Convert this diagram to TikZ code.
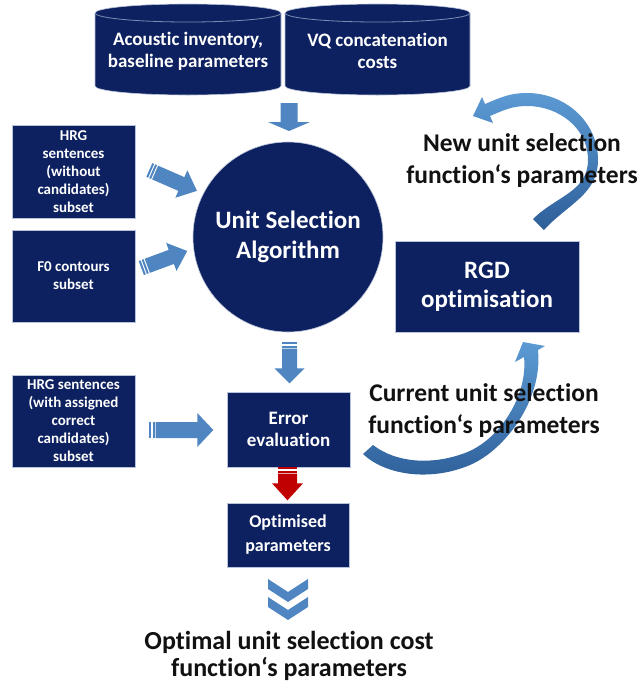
\documentclass[tikz,border=0pt]{standalone}
\usepackage{fontspec}
\setmainfont{Carlito}[Ligatures=NoCommon]
\usetikzlibrary{calc}

\definecolor{navy}{HTML}{0D2160}
\definecolor{boxedge}{HTML}{B8C2D8}
\definecolor{rimline}{HTML}{7C8BB4}
\definecolor{flowblue}{HTML}{4F86C1}
\definecolor{curvelight}{HTML}{5C9AD3}
\definecolor{curvedark}{HTML}{2E5F99}
\definecolor{flowred}{HTML}{C00000}
\definecolor{labelink}{HTML}{111111}

% text sizes
\newcommand\txtS{\fontsize{15}{18}\selectfont\bfseries}
\newcommand\txtM{\fontsize{19}{22}\selectfont\bfseries}
\newcommand\txtO{\fontsize{18}{24}\selectfont\bfseries}
\newcommand\txtL{\fontsize{25}{29}\selectfont\bfseries}
\newcommand\txtC{\fontsize{25}{30}\selectfont\bfseries}
\newcommand\txtB{\fontsize{25.5}{32}\selectfont\bfseries}
\newcommand\txtF{\fontsize{26}{27}\selectfont\bfseries}

\tikzset{
  darkbox/.style={fill=navy, draw=boxedge, line width=0.6pt, text=white,
    align=center, inner sep=0pt},
  caption/.style={text=labelink, align=center, inner sep=0pt},
  % block arrow pointing along +x: {length}{shaft half width}{head half width}{head length}
  pics/stripearrow/.style n args={4}{code={
    \fill[pic actions] (6.4,-#2) -- (#1-#4,-#2) -- (#1-#4,-#3) -- (#1,0)
      -- (#1-#4,#3) -- (#1-#4,#2) -- (6.4,#2) -- cycle;
    \fill[pic actions] (0,-#2) rectangle (2,#2);
    \fill[pic actions] (3.2,-#2) rectangle (5.2,#2);
  }},
  chevron/.style={fill=flowblue},
}

\begin{document}
\begin{tikzpicture}[x=1pt,y=1pt]
\useasboundingbox (0,0) rectangle (643,-686);

% ---------- data stores ----------
\foreach \cx/\hw in {188/93, 377.5/92.5} {
  \fill[navy] (\cx-\hw,-13) -- (\cx-\hw,-86)
    arc[start angle=180,end angle=360,x radius=\hw,y radius=9]
    -- (\cx+\hw,-13)
    arc[start angle=0,end angle=180,x radius=\hw,y radius=9] -- cycle;
  \draw[boxedge, line width=0.6pt] (\cx-\hw,-13) -- (\cx-\hw,-86)
    arc[start angle=180,end angle=360,x radius=\hw,y radius=9]
    -- (\cx+\hw,-13)
    arc[start angle=0,end angle=180,x radius=\hw,y radius=9];
  \draw[rimline, line width=0.8pt] (\cx-\hw,-13)
    arc[start angle=180,end angle=360,x radius=\hw,y radius=9];
}
\node[text=white, align=center, font=\txtM] (inv) at (188,-51)
  {Acoustic inventory,\\baseline parameters};
\node[text=white, align=center, font=\txtM] (vq) at (377.5,-51)
  {VQ concatenation\\costs};

% ---------- main nodes ----------
\node[darkbox, circle, minimum size=190pt, font=\txtC] (usa) at (288,-237)
  {Unit Selection\\Algorithm};
\node[darkbox, minimum width=123pt, minimum height=93pt, font=\txtS] (hrga)
  at (73.5,-171.5) {HRG\\sentences\\(without\\candidates)\\subset};
\node[darkbox, minimum width=123pt, minimum height=92pt, font=\txtS] (fzero)
  at (73.5,-276) {F0 contours\\subset};
\node[darkbox, minimum width=123pt, minimum height=92pt, font=\txtS] (hrgb)
  at (73.5,-421) {HRG sentences\\(with assigned\\correct\\candidates)\\subset};
\node[darkbox, minimum width=123pt, minimum height=75pt, font=\txtM] (err)
  at (288.5,-429.5) {Error\\evaluation};
\node[darkbox, minimum width=122pt, minimum height=64pt, font=\txtO] (opt)
  at (288,-535) {Optimised\\parameters};
\node[darkbox, minimum width=184pt, minimum height=91pt, font=\txtL] (rgd)
  at (487,-286.5) {RGD\\optimisation};

% ---------- straight block arrows ----------
\coordinate (topA) at (289,-103);
\fill[flowblue] ($(topA)+(-8.5,0)$) -- ($(topA)+(8.5,0)$) -- ($(topA)+(8.5,-19)$)
  -- ($(topA)+(21,-19)$) -- ($(topA)+(0,-28)$) -- ($(topA)+(-21,-19)$)
  -- ($(topA)+(-8.5,-19)$) -- cycle;

\coordinate (aOne) at ($(hrga.east)+(14,1.5)$);
\pic[rotate=-23.6, fill=flowblue] at (aOne) {stripearrow={52}{7.5}{15}{17}};
\coordinate (aTwo) at ($(fzero.east)+(6,8)$);
\pic[rotate=20.3, fill=flowblue] at (aTwo) {stripearrow={49}{7.5}{15}{17}};
\coordinate (aThree) at ($(usa.south)+(1.5,-10)$);
\pic[rotate=-90, fill=flowblue] at (aThree) {stripearrow={41}{7.5}{15}{15}};
\coordinate (aFour) at ($(hrgb.east)+(14,-9)$);
\pic[fill=flowblue] at (aFour) {stripearrow={64}{8}{17}{16}};
\coordinate (aFive) at ($(err.south)+(-1,0)$);
\pic[rotate=-90, fill=flowred] at (aFive) {stripearrow={33}{9.5}{15.5}{17}};

% ---------- result chevrons ----------
\foreach \dy in {0,18} {
  \fill[chevron] (268,-579-\dy) -- (288,-592-\dy) -- (308,-579-\dy)
    -- (308,-589-\dy) -- (288,-602-\dy) -- (268,-589-\dy) -- cycle;
}

% ---------- feedback loop arrows ----------
\shade[top color=curvelight, bottom color=curvedark]
  (544,-230) to[out=48,in=-90] (598,-160) to[out=90,in=0] (527,-93)
  to[out=180,in=23] (485,-104) -- (482,-97) -- (473,-116) -- (493,-123)
  -- (490,-116) to[out=23,in=180] (527,-106) to[out=0,in=90] (588,-160)
  to[out=-90,in=45] (533,-219) -- cycle;

\shade[top color=curvelight, bottom color=curvedark]
  (363,-454) .. controls (385,-475) and (430,-482) .. (470,-465)
  .. controls (505,-450) and (543,-400) .. (538,-350)
  -- (545,-346) -- (523,-342) -- (515,-362) -- (524,-357)
  .. controls (528,-395) and (500,-440) .. (465,-453)
  .. controls (430,-466) and (395,-462) .. (373,-445) -- cycle;

% ---------- labels ----------
\node[caption, font=\txtB] (newpar) at (522,-161)
  {New unit selection\\function‘s parameters};
\node[caption, font=\txtB] (curpar) at (484,-411)
  {Current unit selection\\function‘s parameters};
\node[caption, font=\txtF] (final) at (289,-656)
  {Optimal unit selection cost\\function‘s parameters};
\end{tikzpicture}
\end{document}
